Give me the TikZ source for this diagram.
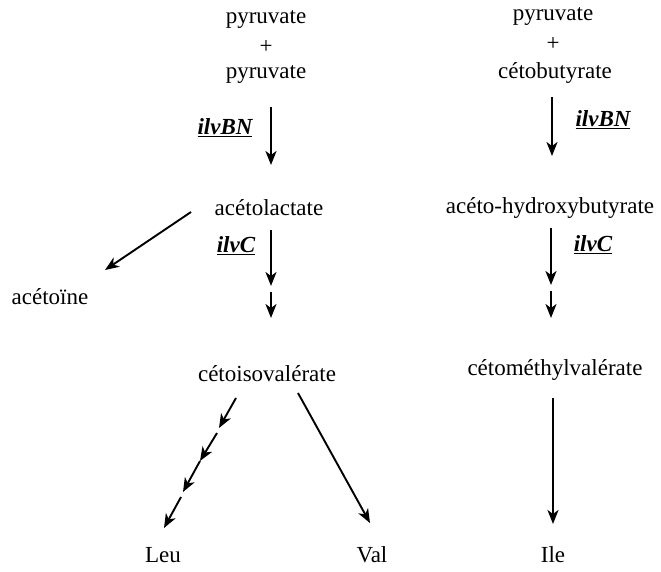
\documentclass[tikz,border=0pt]{standalone}
\usepackage{fontspec}
\setmainfont{Liberation Serif}
\usetikzlibrary{arrows.meta}

\begin{document}
\begin{tikzpicture}
  [x=1pt,y=-1pt,every node/.style={font=\fontsize{23}{26}\selectfont,inner sep=1pt},
   rxn/.style={line width=1.9pt,-{Stealth[length=14pt,width=11pt,inset=4pt]}},
   gene/.style={font=\fontsize{23}{26}\selectfont\bfseries\itshape}]
  \useasboundingbox (0,0) rectangle (661,571);

  % left column
  \node (pyrA) at (266,20) {pyruvate};
  \node (plusA) at (266,47) {+};
  \node (pyrB) at (266,75) {pyruvate};
  \node (acl) at (269,208) {acétolactate};
  \node (acn) at (50,297) {acétoïne};
  \node (kiv) at (267,374) {cétoisovalérate};
  \node (leu) at (163,555) {Leu};
  \node (val) at (372,555) {Val};
  \node[gene] (bnA) at (225,128) {\underline{ilvBN}};
  \node[gene] (cA) at (236,246) {\underline{ilvC}};

  % right column
  \node (pyrC) at (553,17) {pyruvate};
  \node (plusC) at (553,44) {+};
  \node (kb) at (555,73) {cétobutyrate};
  \node (ahb) at (550,208) {acéto-hydroxybutyrate};
  \node (kmv) at (555,370) {cétométhylvalérate};
  \node (ile) at (553,555) {Ile};
  \node[gene] (bnC) at (603,120) {\underline{ilvBN}};
  \node[gene] (cC) at (593,245) {\underline{ilvC}};

  % arrow ends
  \coordinate (a1) at (271,107); \coordinate (a2) at (271,165);
  \coordinate (a3) at (271,230); \coordinate (a4) at (271,286);
  \coordinate (a5) at (271,292); \coordinate (a6) at (271,318);
  \coordinate (a7) at (191,212); \coordinate (a8) at (105,270);
  \coordinate (a9) at (298,393); \coordinate (a10) at (370,523);
  \coordinate (d1) at (236,398); \coordinate (d2) at (219,428);
  \coordinate (d3) at (217,433); \coordinate (d4) at (200,461);
  \coordinate (d5) at (183,492); \coordinate (d6) at (181,497);
  \coordinate (d7) at (164,528);
  \coordinate (b1) at (552,97); \coordinate (b2) at (552,156);
  \coordinate (b3) at (551,228); \coordinate (b4) at (551,285);
  \coordinate (b5) at (551,291); \coordinate (b6) at (551,318);
  \coordinate (b7) at (553,398); \coordinate (b8) at (553,524);

  \foreach \from/\to in {a1/a2,a3/a4,a5/a6,a7/a8,a9/a10,d1/d2,d3/d4,d4/d5,d6/d7,
                         b1/b2,b3/b4,b5/b6,b7/b8}
    \draw[rxn] (\from) -- (\to);

\end{tikzpicture}
\end{document}
